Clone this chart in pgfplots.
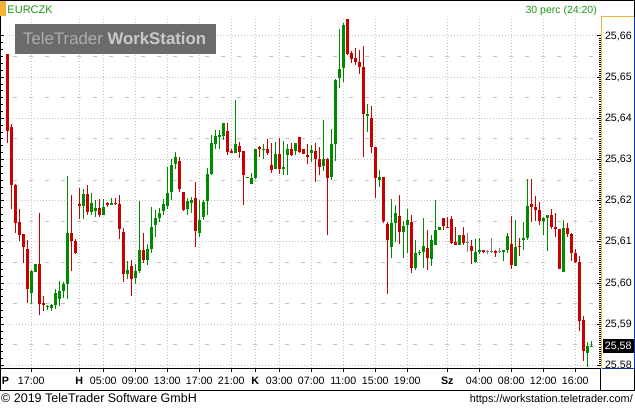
\documentclass[border=0pt]{standalone}
\usepackage{pgfplots}
\pgfplotsset{compat=1.18}
\usepackage{pgfplotstable}
\usepackage{fontspec}
\setmainfont{Liberation Sans}
\definecolor{cred}{HTML}{C80000}
\definecolor{cgreen}{HTML}{008A00}
\definecolor{cgray}{HTML}{808080}
\definecolor{ttgreen}{HTML}{1E9614}
\definecolor{ttorange}{HTML}{F2B234}
\definecolor{gridc}{HTML}{C4C4C4}
\definecolor{tblue}{HTML}{1030A0}
\definecolor{wmbox}{HTML}{6B6B6B}
\definecolor{wmA}{HTML}{ADADAD}
\definecolor{wmB}{HTML}{CACACA}

% x = candle index (30 min), o h l c = open high low close (EUR/CZK)
\pgfplotstableread{
x o h l c
0 25.6556 25.6556 25.6341 25.6370
1 25.6378 25.6386 25.6181 25.6239
2 25.6239 25.6241 25.6122 25.6147
3 25.6148 25.6180 25.6102 25.6118
4 25.6119 25.6119 25.6048 25.6087
5 25.6084 25.6105 25.5952 25.5986
8 25.6046 25.6171 25.5922 25.5949
9 25.5952 25.5969 25.5933 25.5948
16 25.6122 25.6215 25.6030 25.6103
17 25.6103 25.6108 25.6071 25.6072
18 25.6192 25.6231 25.6156 25.6187
20 25.6216 25.6238 25.6165 25.6173
23 25.6182 25.6204 25.6161 25.6166
25 25.6195 25.6197 25.6186 25.6190
27 25.6195 25.6207 25.6190 25.6192
28 25.6192 25.6213 25.6108 25.6132
29 25.6124 25.6134 25.6003 25.6022
31 25.6042 25.6056 25.5969 25.6009
34 25.6080 25.6121 25.6050 25.6056
43 25.6296 25.6305 25.6220 25.6229
44 25.6221 25.6221 25.6174 25.6178
47 25.6207 25.6246 25.6087 25.6127
55 25.6370 25.6389 25.6310 25.6318
56 25.6320 25.6325 25.6315 25.6317
58 25.6333 25.6343 25.6304 25.6318
59 25.6320 25.6320 25.6190 25.6263
63 25.6330 25.6333 25.6307 25.6325
65 25.6325 25.6349 25.6310 25.6317
66 25.6286 25.6341 25.6268 25.6275
68 25.6314 25.6352 25.6265 25.6278
71 25.6325 25.6339 25.6309 25.6310
73 25.6354 25.6354 25.6315 25.6318
74 25.6325 25.6325 25.6314 25.6314
75 25.6312 25.6338 25.6288 25.6307
77 25.6320 25.6341 25.6246 25.6302
78 25.6302 25.6330 25.6263 25.6281
80 25.6301 25.6304 25.6118 25.6254
85 25.6641 25.6641 25.6553 25.6556
86 25.6559 25.6563 25.6535 25.6545
87 25.6547 25.6571 25.6530 25.6537
88 25.6537 25.6566 25.6508 25.6525
89 25.6524 25.6576 25.6307 25.6411
91 25.6401 25.6430 25.6317 25.6331
92 25.6330 25.6330 25.6207 25.6254
94 25.6257 25.6257 25.6145 25.6152
95 25.6144 25.6148 25.5974 25.6105
98 25.6163 25.6213 25.6095 25.6124
101 25.6148 25.6165 25.6025 25.6037
105 25.6085 25.6129 25.6032 25.6061
109 25.6158 25.6158 25.6129 25.6139
110 25.6137 25.6161 25.6134 25.6134
111 25.6155 25.6163 25.6095 25.6097
112 25.6100 25.6137 25.6093 25.6093
114 25.6116 25.6137 25.6092 25.6098
116 25.6090 25.6105 25.6046 25.6077
119 25.6080 25.6080 25.6072 25.6076
122 25.6077 25.6080 25.6063 25.6072
126 25.6095 25.6163 25.6034 25.6043
128 25.6090 25.6110 25.6066 25.6088
131 25.6192 25.6254 25.6148 25.6186
132 25.6186 25.6211 25.6152 25.6178
133 25.6178 25.6197 25.6142 25.6152
136 25.6165 25.6181 25.6132 25.6137
137 25.6137 25.6171 25.6113 25.6132
138 25.6132 25.6132 25.6034 25.6034
140 25.6134 25.6145 25.6113 25.6119
141 25.6119 25.6122 25.6054 25.6074
142 25.6074 25.6082 25.6050 25.6051
143 25.6051 25.6067 25.5884 25.5909
144 25.5910 25.5920 25.5812 25.5836
}\redtab

\pgfplotstableread{
x o h l c
6 25.5977 25.6032 25.5949 25.6029
7 25.6027 25.6046 25.6027 25.6046
10 25.5942 25.5946 25.5935 25.5945
11 25.5940 25.5949 25.5933 25.5948
12 25.5946 25.5986 25.5936 25.5975
13 25.5962 25.6004 25.5944 25.5982
14 25.5982 25.6003 25.5964 25.5998
15 25.5998 25.6260 25.5962 25.6122
19 25.6187 25.6229 25.6155 25.6216
21 25.6173 25.6220 25.6166 25.6194
22 25.6176 25.6202 25.6161 25.6182
24 25.6166 25.6204 25.6165 25.6184
26 25.6190 25.6207 25.6189 25.6194
30 25.6022 25.6053 25.6009 25.6032
32 25.6012 25.6046 25.5998 25.6029
33 25.6030 25.6199 25.6025 25.6080
35 25.6056 25.6095 25.6045 25.6082
36 25.6084 25.6184 25.6074 25.6136
37 25.6142 25.6178 25.6111 25.6158
38 25.6158 25.6182 25.6148 25.6170
39 25.6176 25.6204 25.6166 25.6192
40 25.6187 25.6283 25.6179 25.6218
41 25.6221 25.6301 25.6202 25.6286
42 25.6288 25.6318 25.6276 25.6305
45 25.6179 25.6207 25.6166 25.6199
46 25.6194 25.6210 25.6170 25.6202
48 25.6122 25.6202 25.6113 25.6153
49 25.6161 25.6202 25.6153 25.6197
50 25.6199 25.6280 25.6166 25.6265
51 25.6265 25.6359 25.6262 25.6339
52 25.6338 25.6372 25.6326 25.6357
53 25.6355 25.6372 25.6326 25.6359
54 25.6357 25.6389 25.6348 25.6389
57 25.6315 25.6445 25.6315 25.6338
60 25.6256 25.6258 25.6255 25.6257
61 25.6241 25.6267 25.6241 25.6255
62 25.6254 25.6325 25.6252 25.6325
64 25.6323 25.6338 25.6302 25.6326
67 25.6278 25.6343 25.6278 25.6314
69 25.6278 25.6346 25.6263 25.6281
70 25.6310 25.6338 25.6263 25.6325
72 25.6320 25.6339 25.6310 25.6339
76 25.6317 25.6336 25.6294 25.6322
79 25.6284 25.6396 25.6273 25.6301
81 25.6258 25.6373 25.6250 25.6338
82 25.6338 25.6495 25.6297 25.6493
83 25.6498 25.6616 25.6474 25.6519
84 25.6522 25.6631 25.6488 25.6626
90 25.6406 25.6435 25.6367 25.6411
93 25.6250 25.6275 25.6233 25.6257
96 25.6088 25.6204 25.6061 25.6145
97 25.6147 25.6189 25.6100 25.6170
99 25.6124 25.6152 25.6061 25.6139
100 25.6140 25.6179 25.6072 25.6153
102 25.6037 25.6105 25.6032 25.6072
103 25.6072 25.6080 25.6069 25.6076
104 25.6076 25.6158 25.6037 25.6090
106 25.6059 25.6116 25.6042 25.6105
107 25.6093 25.6202 25.6093 25.6129
108 25.6129 25.6137 25.6129 25.6137
113 25.6093 25.6116 25.6092 25.6116
117 25.6051 25.6106 25.6048 25.6076
118 25.6076 25.6110 25.6071 25.6080
124 25.6076 25.6080 25.6054 25.6080
125 25.6080 25.6122 25.6074 25.6114
127 25.6042 25.6153 25.6042 25.6087
129 25.6105 25.6148 25.6080 25.6110
130 25.6110 25.6254 25.6105 25.6187
134 25.6152 25.6160 25.6118 25.6158
135 25.6158 25.6165 25.6079 25.6165
139 25.6027 25.6153 25.6027 25.6134
145 25.5831 25.5857 25.5797 25.5847
146 25.5846 25.5859 25.5846 25.5847
}\greentab

\pgfplotstableread{
x o h l c
115 25.6098 25.6122 25.6076 25.6098
120 25.6076 25.6080 25.6071 25.6076
121 25.6076 25.6110 25.6072 25.6076
123 25.6076 25.6085 25.6072 25.6076
}\graytab

\pgfplotsset{
  candlewick/.style={draw=none, mark=none, error bars/.cd, y dir=plus, y explicit,
     error mark=none, error bar style={line width=1pt, draw=#1}},
  candlebody/.style={draw=none, mark=none, error bars/.cd, y dir=plus, y explicit,
     error mark=none, error bar style={line width=3pt, draw=#1}},
}
\newcommand\wicks[2]{\addplot[candlewick=#2] table[x=x, y=l, y error plus expr={\thisrow{h}-\thisrow{l}}] {#1};}
\newcommand\bodies[2]{\addplot[candlebody=#2] table[x=x, y expr={min(\thisrow{o},\thisrow{c})}, y error plus expr={max(abs(\thisrow{c}-\thisrow{o}),0.00025)}] {#1};}

\begin{document}
\begin{tikzpicture}[x=1pt,y=1pt]
\useasboundingbox (0pt,0pt) rectangle (635pt,408pt);
\fill[white] (0pt,0pt) rectangle (635pt,408pt);

\begin{axis}[
  at={(0.5pt,40pt)}, anchor=south west,
  width=597.5pt, height=351pt, scale only axis,
  xmin=-1.7, xmax=147.675,
  ymin=25.57939, ymax=25.66461,
  axis line style={draw=none},
  xtick={6,18,24,32,40,48,56,62,68,76,84,92,100,110,118,126,134,142},
  xticklabels={17:00,\textbf{H},05:00,09:00,13:00,17:00,21:00,\textbf{K},03:00,07:00,11:00,15:00,19:00,\textbf{Sz},04:00,08:00,12:00,16:00},
  xtick pos=bottom, xtick align=outside,
  ytick={25.58,25.59,25.60,25.61,25.62,25.63,25.64,25.65,25.66},
  yticklabels={},
  ytick pos=left, ytick align=inside,
  minor y tick num=5,
  major tick length=4pt, minor tick length=2.5pt,
  tick style={black, line width=1pt},
  minor tick style={black, line width=1pt},
  xmajorgrids, ymajorgrids,
  major grid style={gridc, line width=1pt, dash pattern=on 1pt off 2pt},
  xticklabel style={font=\fontsize{10.67}{12}\selectfont, anchor=base, yshift=-12.3pt},
  clip=true,
]
\pgfplotsinvokeforeach{25.585,25.595,25.605,25.615,25.625,25.635,25.645,25.655}{
  \draw[gridc, line width=1pt, dash pattern=on 4pt off 12pt, dash phase=3.2pt]
     (axis cs:-1.7,#1) -- (axis cs:147.675,#1);
}
\wicks{\redtab}{cred}
\bodies{\redtab}{cred}
\wicks{\greentab}{cgreen}
\bodies{\greentab}{cgreen}
\wicks{\graytab}{cgray}
\bodies{\graytab}{cgray}
\end{axis}

\begin{axis}[
  at={(0.5pt,40pt)}, anchor=south west,
  width=600.5pt, height=351pt, scale only axis,
  xmin=0, xmax=1,
  ymin=25.57939, ymax=25.66461,
  axis line style={draw=none},
  xtick=\empty,
  ytick={25.58,25.59,25.60,25.61,25.62,25.63,25.64,25.65,25.66},
  ytick pos=right, yticklabel pos=right, ytick align=inside,
  minor y tick num=19,
  major tick length=4pt, minor tick length=2pt,
  tick style={black, line width=1pt},
  minor tick style={black, line width=0.8pt},
  yticklabel style={font=\fontsize{10.67}{12}\selectfont, anchor=west, xshift=0.5pt,
     /pgf/number format/.cd, fixed, fixed zerofill, precision=2, use comma, assume math mode=true},
  clip=false,
]
\node[fill=black, text=white, anchor=west, inner sep=2.2pt, minimum height=14pt,
      font=\fontsize{10.67}{12}\selectfont] at (axis cs:1,25.5847) [xshift=1.5pt] {25,58};
\end{axis}

% frame
\draw[black, line width=1pt] (0pt,407.5pt) -- (635pt,407.5pt);
\draw[black, line width=1pt] (0.5pt,408pt) -- (0.5pt,17.5pt);
\draw[black, line width=1pt] (0pt,40pt) -- (601pt,40pt);
\draw[black, line width=1pt] (0pt,17.5pt) -- (635pt,17.5pt);
\draw[black, line width=1pt] (600.5pt,40pt) -- (600.5pt,17.5pt);
\draw[black, line width=1pt] (634.5pt,408pt) -- (634.5pt,17.5pt);
\draw[ttorange, line width=1pt] (601.5pt,40pt) -- (601.5pt,391pt) -- (634pt,391pt);
\draw[tblue, line width=1pt] (634.5pt,391pt) -- (634.5pt,40pt) -- (601.5pt,40pt);

% title strip
\fill[ttorange] (0pt,392pt) rectangle (5.5pt,407pt);
\node[anchor=base west, inner sep=0, text=ttgreen, font=\fontsize{11}{13}\selectfont] at (7.3pt,394.5pt) {EURCZK};
\node[anchor=base east, inner sep=0, text=ttgreen, font=\fontsize{10.5}{12}\selectfont] at (597pt,394.5pt) {30 perc (24:20)};

% watermark
\fill[wmbox] (15pt,353.7pt) rectangle (216pt,383.7pt);
\node[anchor=base west, inner sep=0, font=\fontsize{16.8}{18}\selectfont] at (23pt,363pt)
  {\textcolor{wmA}{TeleTrader} \textcolor{wmB}{\bfseries WorkStation}};

% day label at left edge
\node[anchor=base west, inner sep=0, font=\fontsize{10.67}{12}\selectfont\bfseries] at (1.7pt,23.7pt) {P};

% footer
\node[anchor=base west, inner sep=0, font=\fontsize{12.5}{14}\selectfont] at (1pt,5.7pt) {© 2019 TeleTrader Software GmbH};
\node[anchor=base east, inner sep=0, font=\fontsize{10.9}{13}\selectfont] at (633pt,5.7pt) {https://workstation.teletrader.com/};
\end{tikzpicture}
\end{document}
